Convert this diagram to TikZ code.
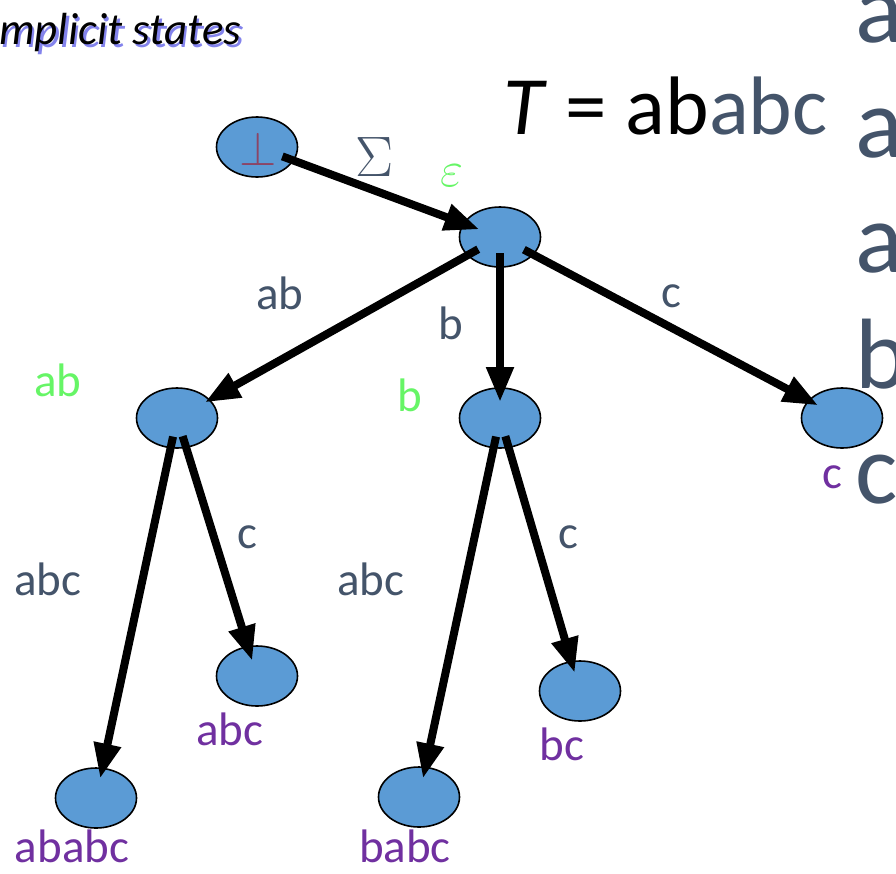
\RequirePackage{fix-cm}
\documentclass[tikz,border=0pt]{standalone}
\usepackage{fontspec}
\setmainfont{Carlito}
\usetikzlibrary{arrows.meta,positioning,shapes.geometric}
\definecolor{nodeblue}{HTML}{5B9BD5}
\definecolor{slate}{HTML}{44546A}
\definecolor{lgreen}{HTML}{66F566}
\definecolor{purp}{HTML}{7030A0}
\definecolor{bottxt}{HTML}{8B4566}
\definecolor{shadowblue}{HTML}{3030E0}

\begin{document}
\begin{tikzpicture}[x=1pt,y=-1pt,>={Triangle[length=35pt,width=26pt]}]
  \tikzstyle{state}=[ellipse,draw,line width=1.6pt,fill=nodeblue,minimum width=81pt,minimum height=60pt,inner sep=0pt]
  \tikzstyle{edge}=[line width=8pt,->]
  \tikzstyle{lbl}=[font=\fontsize{47}{50}\selectfont,inner sep=0pt,anchor=base]
  \useasboundingbox (0,0) rectangle (896,873);
  % title and string
  \node[font=\fontsize{45}{48}\selectfont\itshape,text=shadowblue,opacity=0.6,inner sep=0pt,anchor=base west] (titsh) at (1.5,47) {mplicit states};
  \node[font=\fontsize{45}{48}\selectfont\itshape,inner sep=0pt,anchor=base west] (title) at (-1,44) {mplicit states};
  \node[font=\fontsize{83}{88}\selectfont,inner sep=0pt,anchor=base west] (text) at (503,134) {\textit{T} = ab\textcolor{slate}{abc}};
  % suffix column
  \foreach \ch/\yy in {a/42,a/157,a/272,b/388,c/503}
    \node[font=\fontsize{100}{100}\selectfont,text=slate,inner sep=0pt,anchor=base west] at (855,\yy) {\ch};
  % states
  \node[state] (bot) at (257,147) {};
  \node[font=\fontsize{48}{50}\selectfont,text=bottxt,inner sep=0pt] (botsym) at (258,149) {$\bot$};
  \node[state] (eps) at (500,237) {};
  \node[state] (nab) at (177,418) {};
  \node[state] (nb) at (500,418) {};
  \node[state] (nc) at (842,418) {};
  \node[state] (nabc) at (257,676) {};
  \node[state] (nbc) at (580,691) {};
  \node[state] (nbabc) at (419,797) {};
  \node[state] (nababc) at (96,798) {};
  % transitions
  \draw[edge,shorten <=27pt,shorten >=22pt] (bot.center) -- (eps.center);
  \draw[edge,shorten <=25pt,shorten >=32pt] (eps.center) -- (nab.center);
  \draw[edge,shorten <=16pt,shorten >=16pt] (eps.center) -- (nb.center);
  \draw[edge,shorten <=27pt,shorten >=27pt] (eps.center) -- (nc.center);
  \draw[edge,shorten <=19pt,shorten >=20pt] (nab.center) -- (nababc.center);
  \draw[edge,shorten <=19pt,shorten >=16pt] (nab.center) -- (nabc.center);
  \draw[edge,shorten <=19pt,shorten >=19pt] (nb.center) -- (nbabc.center);
  \draw[edge,shorten <=19pt,shorten >=19pt] (nb.center) -- (nbc.center);
  % edge labels
  \node[font=\fontsize{57}{60}\selectfont,text=slate,inner sep=0pt] (sig) at (375,157) {$\Sigma$};
  \node[lbl,text=slate] at (280,309) {ab};
  \node[lbl,text=slate] at (451,339) {b};
  \node[lbl,text=slate] at (671,307) {c};
  \node[lbl,text=slate] at (247,548) {c};
  \node[lbl,text=slate] at (48,595) {abc};
  \node[lbl,text=slate] at (371,595) {abc};
  \node[lbl,text=slate] at (568,548) {c};
  % state labels
  \node[font=\fontsize{50}{50}\selectfont,text=lgreen,inner sep=0pt] (epslbl) at (452,176) {$\varepsilon$};
  \node[lbl,text=lgreen] at (58,396) {ab};
  \node[lbl,text=lgreen] at (410,411) {b};
  \node[lbl,text=purp] at (832,488) {c};
  \node[lbl,text=purp] at (230,745) {abc};
  \node[lbl,text=purp] at (562,760) {bc};
  \node[lbl,text=purp] at (405,862) {babc};
  \node[lbl,text=purp] at (72,862) {ababc};
\end{tikzpicture}
\end{document}
